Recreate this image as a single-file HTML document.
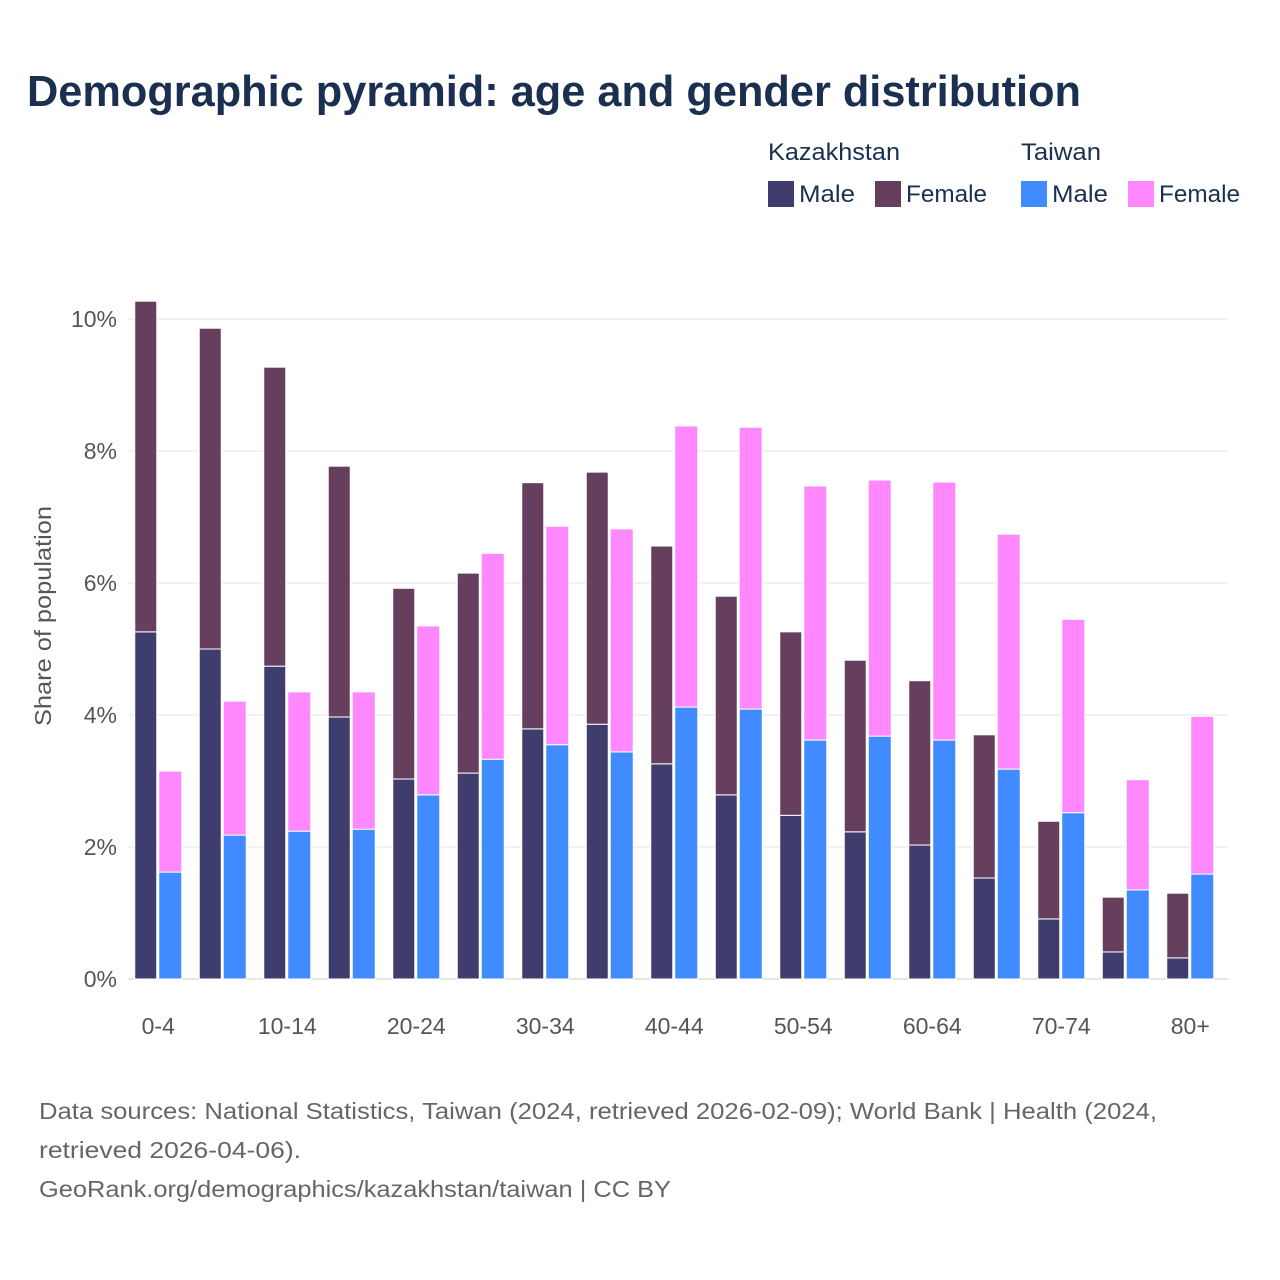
<!DOCTYPE html>
<html><head><meta charset="utf-8"><style>
body{margin:0;background:#fff;font-family:"Liberation Sans",sans-serif;}
#wrap{position:relative;width:1280px;height:1280px;overflow:hidden;}
</style></head><body>
<div id="wrap">
<svg id="chart" width="1280" height="1280" xmlns="http://www.w3.org/2000/svg"></svg>
</div>
<script>
const categories=["0-4","5-9","10-14","15-19","20-24","25-29","30-34","35-39","40-44","45-49","50-54","55-59","60-64","65-69","70-74","75-79","80+"];
const kazMale=[5.26,5.0,4.74,3.97,3.03,3.12,3.79,3.86,3.26,2.79,2.48,2.23,2.03,1.53,0.91,0.41,0.32];
const kazFemale=[5.01,4.86,4.53,3.80,2.89,3.03,3.73,3.82,3.30,3.01,2.78,2.60,2.49,2.17,1.48,0.83,0.98];
const twMale=[1.62,2.18,2.24,2.27,2.79,3.33,3.55,3.44,4.12,4.09,3.62,3.68,3.62,3.18,2.52,1.35,1.59];
const twFemale=[1.53,2.03,2.11,2.08,2.56,3.12,3.31,3.38,4.26,4.27,3.85,3.88,3.91,3.56,2.93,1.67,2.39];
const yTicks=[0,2,4,6,8,10];
const xTickLabels=["0-4","10-14","20-24","30-34","40-44","50-54","60-64","70-74","80+"];

const NS="http://www.w3.org/2000/svg";
const svg=document.getElementById('chart');
function el(tag,attrs,text){const e=document.createElementNS(NS,tag);for(const k in attrs)e.setAttribute(k,attrs[k]);if(text!==undefined)e.textContent=text;svg.appendChild(e);return e;}
const y0=979,pxPer=66;
function yScale(v){return y0-v*pxPer;}
const groupW=64.5,x0=126;
function xCenter(i){return x0+groupW*(i+0.5);}
const font='"Liberation Sans", sans-serif';

let t=el('text',{x:27,y:106,'font-size':44,'font-weight':'bold',fill:'#1b3050','font-family':font,textLength:1054,lengthAdjust:'spacingAndGlyphs'},'Demographic pyramid: age and gender distribution');


const leg=[[768,'Kazakhstan',132],[1021,'Taiwan',80]];
leg.forEach(l=>{const e=el('text',{x:l[0],y:160,'font-size':24,fill:'#1b3050','font-family':font,textLength:l[2],lengthAdjust:'spacingAndGlyphs'},l[1]);});
const items=[[768,'#3f3d6e','Male','kaz-male',56],[875,'#663f5f','Female','kaz-female',81],[1021,'#3f8bff','Male','tw-male',56],[1128,'#ff88ff','Female','tw-female',81]];
items.forEach(it=>{
 const r=el('rect',{x:it[0],y:181,width:26,height:26,fill:it[1]});
 
 const tx=el('text',{x:it[0]+31,y:202,'font-size':24,fill:'#1b3050','font-family':font,textLength:it[4],lengthAdjust:'spacingAndGlyphs'},it[2]);
 
});

yTicks.forEach(v=>{
 const g=el('line',{x1:128,x2:1228,y1:yScale(v),y2:yScale(v),stroke:v===0?'#cccccc':'#e6e6e6','stroke-width':1});
 
 const lb=el('text',{x:117,y:yScale(v)+8,'text-anchor':'end','font-size':23,fill:'#555','font-family':font},v+'%');
 
});
const yt=el('text',{x:0,y:0,'font-size':23,fill:'#555','font-family':font,'text-anchor':'middle',transform:'translate(51,616) rotate(-90)',textLength:220,lengthAdjust:'spacingAndGlyphs'},'Share of population');


categories.forEach((c,i)=>{
 const cx=xCenter(i);
 function bar(x,w,lo,hi,col,name){
  const r=el('rect',{x:x,y:yScale(hi),width:w,height:yScale(lo)-yScale(hi),fill:col,stroke:'#fff','stroke-width':1});
  
 }
 bar(cx-23.5,22,0,kazMale[i],'#3f3d6e','bar-kazakhstan-male');
 bar(cx-23.5,22,kazMale[i],kazMale[i]+kazFemale[i],'#663f5f','bar-kazakhstan-female');
 bar(cx+0.5,23,0,twMale[i],'#3f8bff','bar-taiwan-male');
 bar(cx+0.5,23,twMale[i],twMale[i]+twFemale[i],'#ff88ff','bar-taiwan-female');
 if(xTickLabels.indexOf(c)>=0){
  const lb=el('text',{x:cx,y:1034,'text-anchor':'middle','font-size':23,fill:'#555','font-family':font},c);
  
 }
});

const foot=[['Data sources: National Statistics, Taiwan (2024, retrieved 2026-02-09); World Bank | Health (2024,',1118],['retrieved 2026-04-06).',262],['GeoRank.org/demographics/kazakhstan/taiwan | CC BY',632]];
foot.forEach((s,i)=>{const e=el('text',{x:39,y:1119+i*39,'font-size':23,fill:'#666','font-family':font,textLength:s[1],lengthAdjust:'spacingAndGlyphs'},s[0]);});
</script>
</body></html>
